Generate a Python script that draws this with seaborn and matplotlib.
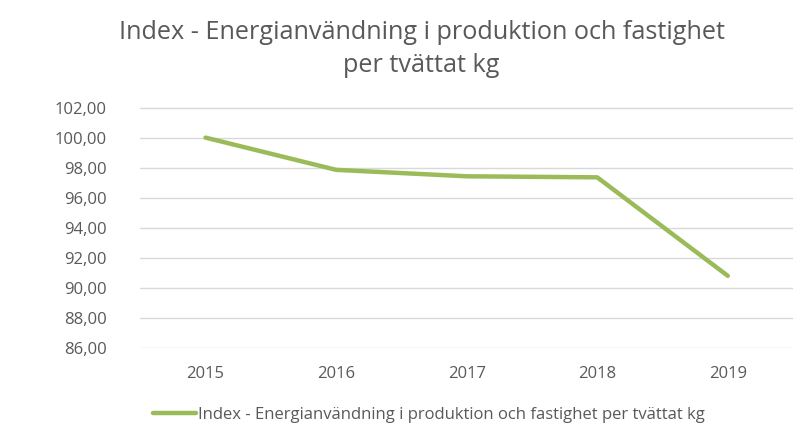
import matplotlib
matplotlib.use("Agg")
import matplotlib.pyplot as plt
import seaborn as sns
import pandas as pd

years = ["2015", "2016", "2017", "2018", "2019"]
index_values = [100.0, 97.85, 97.42, 97.35, 90.78]
series_name = "Index - Energianvändning i produktion och fastighet per tvättat kg"

sns.set_theme(style="white")
plt.rcParams["font.family"] = ["Open Sans", "DejaVu Sans"]

df = pd.DataFrame({"pos": range(len(years)), "value": index_values, "serie": series_name})

fig = plt.figure(figsize=(8.06, 4.23), dpi=100)
ax = fig.add_axes([0.174, 0.177, 0.81, 0.57])

sns.lineplot(data=df, x="pos", y="value", hue="serie", palette=["#9BBB59"],
             linewidth=3.2, ax=ax, legend=True)

ax.set_xlim(-0.5, 4.5)
ax.set_ylim(85.96, 102.04)
ax.set_yticks(range(86, 103, 2))
ax.set_yticklabels([f"{v},00" for v in range(86, 103, 2)])
ax.set_xticks(range(len(years)))
ax.set_xticklabels(years)
ax.yaxis.grid(True, color="#D9D9D9", linewidth=1)
ax.set_axisbelow(True)
for s in ax.spines.values():
    s.set_visible(False)
ax.tick_params(axis="both", colors="#595959", labelsize=12, length=0)
ax.tick_params(axis="y", pad=24)
ax.tick_params(axis="x", pad=13)
ax.set_xlabel("")
ax.set_ylabel("")

fig.text(0.523, 0.884, "Index - Energianvändning i produktion och fastighet\nper tvättat kg",
         ha="center", va="center", fontsize=18.2, color="#595959", linespacing=1.45)

handles, labels = ax.get_legend_handles_labels()
ax.legend(handles, labels, loc="center", bbox_to_anchor=(0.442, -0.278),
          frameon=False, fontsize=12, labelcolor="#595959",
          handlelength=2.6, handletextpad=0.1)

fig.savefig("out.png", dpi=100)
